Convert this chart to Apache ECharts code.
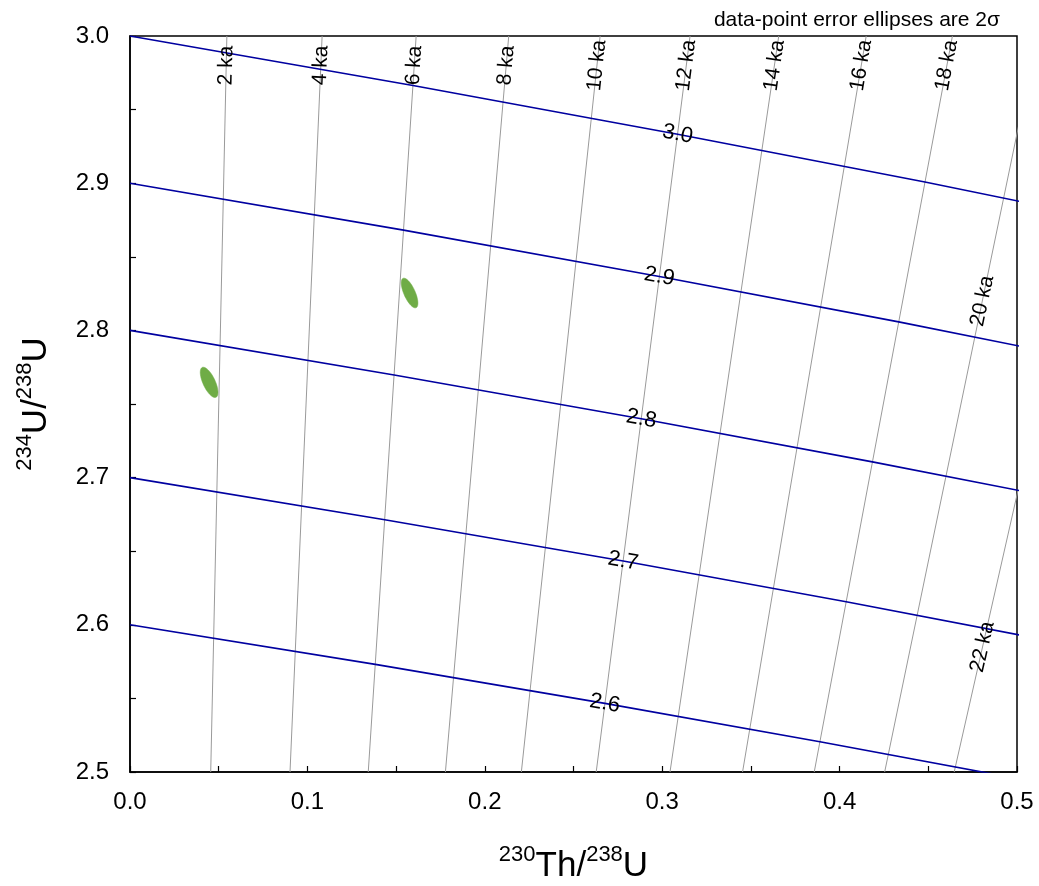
<!DOCTYPE html>
<html>
<head>
<meta charset="utf-8">
<title>U-Th isochron diagram</title>
<script src="https://cdn.jsdelivr.net/npm/echarts@6/dist/echarts.min.js"></script>
<style>
  html, body { margin: 0; padding: 0; background: #fff; }
  #chart { width: 1039px; height: 886px; }
</style>
</head>
<body>
<div id="chart"></div>
<script>
// isochrons (ages in ka), x at 234U/238U = 2.5 and 3.0
const ages = [2, 4, 6, 8, 10, 12, 14, 16, 18, 20, 22];
const isoBottomX = [0.0455, 0.0902, 0.1343, 0.1778, 0.2206, 0.2628, 0.3044, 0.3453, 0.3857, 0.4254, 0.4646];
const isoTopX = [0.0546, 0.1083, 0.1613, 0.2135, 0.2650, 0.3157, 0.3657, 0.4150, 0.4636, 0.5114, 0.5586];
const isoLabelX = [0.0542, 0.1076, 0.1602, 0.2121, 0.2632, 0.3136, 0.3633, 0.4122, 0.4604, 0.4805, 0.4806];
const isoLabelY = [2.98, 2.98, 2.98, 2.98, 2.98, 2.98, 2.98, 2.98, 2.98, 2.82, 2.585];

// initial 234U/238U curves
const initialRatios = [3.0, 2.9, 2.8, 2.7, 2.6];
const curveX = [
    [0, 0.1595, 0.3087, 0.4481, 0.5784],
    [0, 0.1542, 0.2984, 0.4333, 0.5593],
    [0, 0.1489, 0.2882, 0.4185, 0.5403],
    [0, 0.1436, 0.2780, 0.4037, 0.5212],
    [0, 0.1383, 0.2677, 0.3889, 0.5022]
];
const curveY = [
    [3.0, 2.9664, 2.9333, 2.9008, 2.8688],
    [2.9, 2.8681, 2.8366, 2.8058, 2.7754],
    [2.8, 2.7697, 2.7400, 2.7107, 2.6820],
    [2.7, 2.6714, 2.6433, 2.6157, 2.5885],
    [2.6, 2.5731, 2.5466, 2.5206, 2.4951]
];
const curveLabelIndex = 2;

// data points (2 sigma ellipses)
const ellX = [0.0446, 0.1576];
const ellY = [2.7647, 2.8254];
const ellSX = [0.0050, 0.0047];
const ellSY = [0.0103, 0.0101];
const ellRho = [-0.66, -0.68];

const xTicks = { min: 0, max: 0.5, step: 0.1 };
const yTicks = { min: 2.5, max: 3.0, step: 0.1 };

const chart = echarts.init(document.getElementById("chart"));
const FONT = "Liberation Sans, Arial, sans-serif";

const isoSeries = ages.map((age, i) => ({
    type: "line",
    name: age + " ka",
    data: [[isoBottomX[i], 2.5], [isoTopX[i], 3.0]],
    showSymbol: false,
    symbol: "none",
    silent: true,
    lineStyle: { color: "#9a9a9a", width: 1 },
    z: 2
}));

const curveSeries = initialRatios.map((r, i) => ({
    type: "line",
    name: r.toFixed(1),
    data: curveX[i].map((x, k) => [x, curveY[i][k]]),
    showSymbol: false,
    symbol: "none",
    silent: true,
    lineStyle: { color: "#0000a0", width: 1.6 },
    z: 3
}));

const ellipseSeries = {
    type: "custom",
    clip: true,
    silent: true,
    data: ellX.map((x, i) => [x, ellY[i], ellSX[i], ellSY[i], ellRho[i]]),
    renderItem: (params, api) => {
        const cx = api.value(0), cy = api.value(1);
        const sx = api.value(2), sy = api.value(3), rho = api.value(4);
        const s = Math.sqrt(1 - rho * rho);
        const pts = [];
        for (let k = 0; k < 72; k++) {
            const a = (k / 72) * Math.PI * 2;
            pts.push(api.coord([cx + sx * Math.cos(a), cy + sy * (rho * Math.cos(a) + s * Math.sin(a))]));
        }
        return { type: "polygon", shape: { points: pts }, style: { fill: "#6fac46", stroke: "#6fac46", lineWidth: 0.5 } };
    },
    z: 5
};

const axisCommon = {
    type: "value",
    axisLine: { show: true, onZero: false, lineStyle: { color: "#000", width: 1.5 } },
    axisTick: { show: true, inside: true, length: 6, lineStyle: { color: "#000", width: 1.2 } },
    minorTick: { show: true, splitNumber: 2, length: 6, lineStyle: { color: "#000", width: 1.2 } },
    splitLine: { show: false },
    axisLabel: { color: "#000", fontSize: 24, fontFamily: FONT, formatter: v => v.toFixed(1) },
    nameLocation: "middle",
    nameTextStyle: {
        color: "#000",
        fontFamily: FONT,
        rich: {
            main: { fontSize: 35, fontFamily: FONT, color: "#000", verticalAlign: "bottom", lineHeight: 40 },
            sup: { fontSize: 22, fontFamily: FONT, color: "#000", verticalAlign: "top", lineHeight: 40, padding: [0, 0, 14, 0] }
        }
    }
};

chart.setOption({
    animation: false,
    backgroundColor: "#fff",
    title: {
        text: "data-point error ellipses are 2σ",
        right: 34,
        top: 5,
        textStyle: { fontSize: 21, fontWeight: "normal", color: "#000", fontFamily: FONT }
    },
    grid: {
        left: 130, right: 22, top: 36, bottom: 114,
        outerBoundsMode: "none", containLabel: false,
        show: true, borderColor: "#000", borderWidth: 1.5, backgroundColor: "transparent"
    },
    xAxis: Object.assign({}, axisCommon, {
        min: xTicks.min, max: xTicks.max, interval: xTicks.step,
        name: "{sup|230}{main|Th/}{sup|238}{main|U}",
        nameGap: 72,
        axisLabel: Object.assign({}, axisCommon.axisLabel, { margin: 18 })
    }),
    yAxis: Object.assign({}, axisCommon, {
        min: yTicks.min, max: yTicks.max, interval: yTicks.step,
        name: "{sup|234}{main|U/}{sup|238}{main|U}",
        nameGap: 76,
        axisLabel: Object.assign({}, axisCommon.axisLabel, { margin: 21 })
    }),
    series: [].concat(isoSeries, curveSeries, [ellipseSeries])
});

// labels rotated along their lines
function angleOf(a, b) {
    const p = chart.convertToPixel({ gridIndex: 0 }, a);
    const q = chart.convertToPixel({ gridIndex: 0 }, b);
    return Math.atan2(p[1] - q[1], q[0] - p[0]) * 180 / Math.PI;
}

const labelStyle = {
    show: true, position: "inside", color: "#000", fontSize: 21, fontFamily: FONT,
    textBorderWidth: 0, textBorderColor: "transparent", opacity: 1
};

const isoLabelData = ages.map((age, i) => ({
    value: [isoLabelX[i], isoLabelY[i]],
    label: Object.assign({}, labelStyle, {
        formatter: age + " ka",
        rotate: angleOf([isoBottomX[i], 2.5], [isoTopX[i], 3.0])
    })
}));

const curveLabelData = initialRatios.map((r, i) => {
    const k = curveLabelIndex;
    return {
        value: [curveX[i][k], curveY[i][k]],
        label: Object.assign({}, labelStyle, {
            formatter: r.toFixed(1),
            fontSize: 22,
            rotate: angleOf([curveX[i][k - 1], curveY[i][k - 1]], [curveX[i][k + 1], curveY[i][k + 1]])
        })
    };
});

chart.setOption({
    series: [].concat(isoSeries, curveSeries, [ellipseSeries], [{
        type: "scatter",
        symbolSize: 0,
        silent: true,
        itemStyle: { color: "#000", opacity: 1 },
        data: isoLabelData.concat(curveLabelData),
        z: 6
    }])
});

window.addEventListener("resize", () => chart.resize());
</script>
</body>
</html>
